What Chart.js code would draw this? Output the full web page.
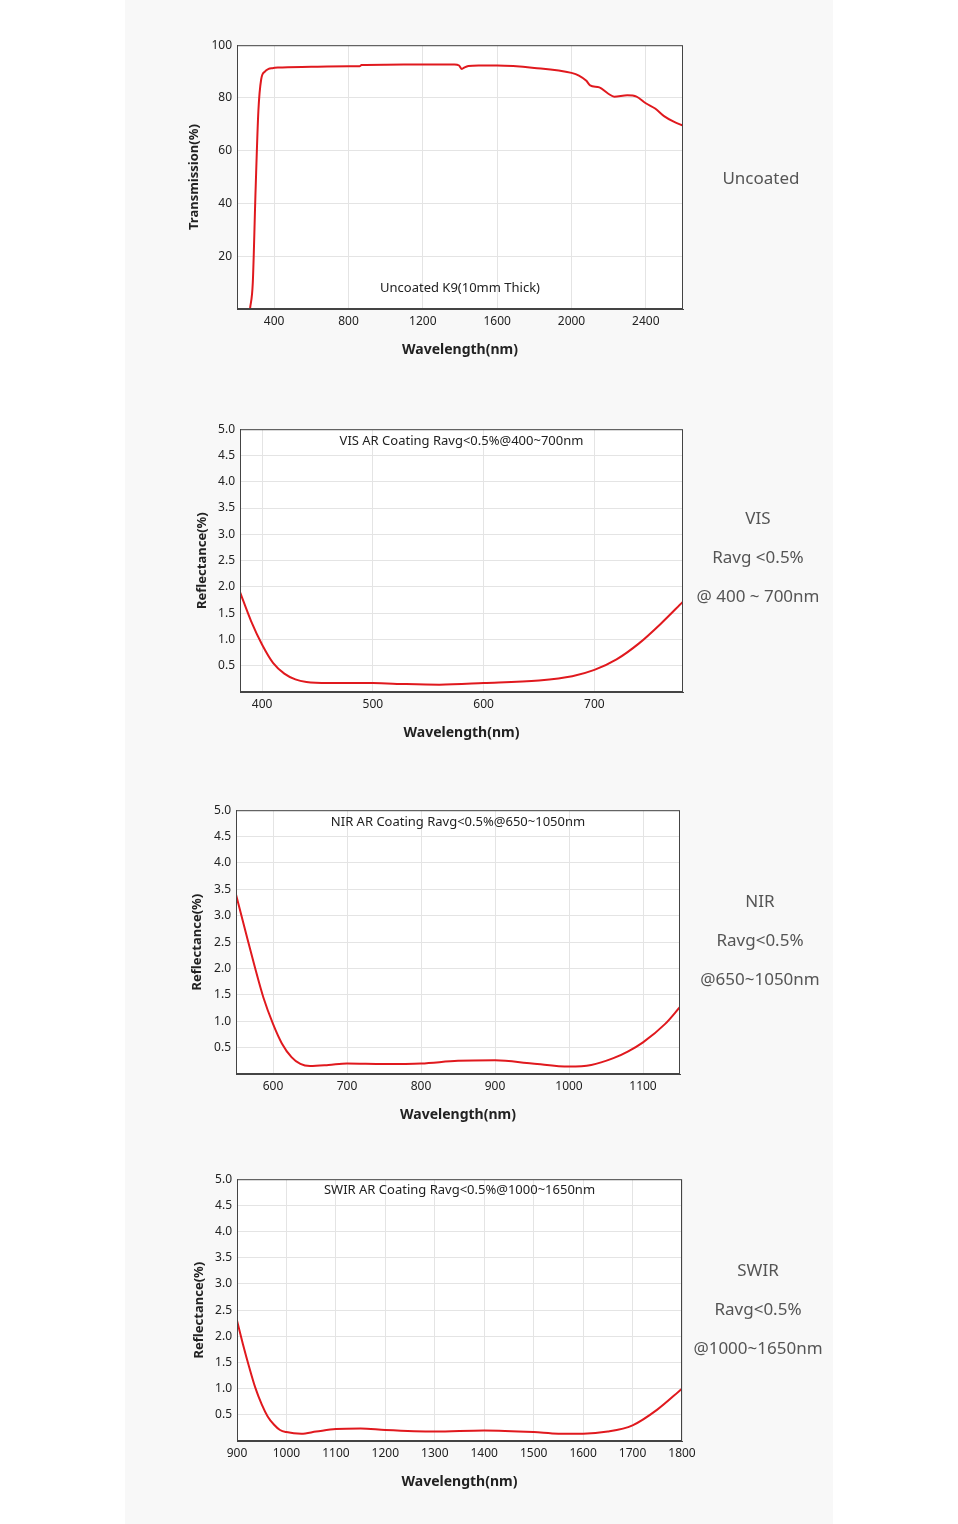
<!DOCTYPE html>
<html><head><meta charset="utf-8">
<script src="https://cdn.jsdelivr.net/npm/chart.js@4"></script>
<style>
body{margin:0;background:#fff;width:958px;height:1524px;position:relative;font-family:"Noto Sans","Open Sans",sans-serif;overflow:hidden}
#panel{position:absolute;left:125px;top:0;width:708px;height:1524px;background:#f8f8f8}
canvas{position:absolute}
.lab{position:absolute;color:#555;font-size:17px;text-align:center;width:160px;line-height:39px}
</style></head><body>
<div id="panel"></div>
<canvas id="c1"></canvas><canvas id="c2"></canvas><canvas id="c3"></canvas><canvas id="c4"></canvas>
<div class="lab" style="left:681px;top:158px">Uncoated</div>
<div class="lab" style="left:678px;top:498px">VIS<br>Ravg &lt;0.5%<br>@ 400 ~ 700nm</div>
<div class="lab" style="left:680px;top:881px">NIR<br>Ravg&lt;0.5%<br>@650~1050nm</div>
<div class="lab" style="left:678px;top:1250px">SWIR<br>Ravg&lt;0.5%<br>@1000~1650nm</div>
<script>
// Chart 1: uncoated transmission
const wl1 = [270,285,300,315,330,350,370,390,420,600,800,860,870,1000,1200,1370,1395,1410,1425,1445,1500,1600,1800,2000,2040,2080,2100,2150,2200,2230,2300,2350,2400,2450,2500,2550,2600];
const tr1 = [0,10,45,75,87,90,91,91.3,91.5,91.8,92,92,92.5,92.6,92.7,92.7,92.3,91,91.6,92.1,92.3,92.3,91.4,89.5,88.5,86.5,84.8,84,81.5,80.5,81,80.5,78,76,73,71,69.5];
const xt1 = [400,800,1200,1600,2000,2400];
// Chart 2: VIS AR
const wl2 = [380,390,400,410,420,430,440,460,480,500,530,560,600,650,680,700,720,740,760,780];
const r2 = [1.9,1.35,0.9,0.55,0.35,0.24,0.19,0.17,0.17,0.17,0.15,0.14,0.17,0.22,0.3,0.42,0.62,0.92,1.3,1.72];
const xt2 = [400,500,600,700];
// Chart 3: NIR AR
const wl3 = [550,562,575,587,600,612,625,637,650,675,700,750,800,850,900,950,1000,1030,1060,1080,1100,1130,1150];
const r3 = [3.4,2.75,2.05,1.45,0.95,0.58,0.32,0.19,0.15,0.17,0.2,0.19,0.2,0.25,0.26,0.2,0.14,0.17,0.3,0.43,0.6,0.95,1.27];
const xt3 = [600,700,800,900,1000,1100];
// Chart 4: SWIR AR
const wl4 = [900,912,925,937,950,962,975,987,1000,1030,1060,1100,1150,1200,1300,1400,1500,1550,1600,1650,1700,1750,1800];
const r4 = [2.3,1.85,1.4,1.02,0.7,0.47,0.31,0.21,0.17,0.14,0.18,0.23,0.24,0.21,0.18,0.2,0.17,0.14,0.14,0.18,0.3,0.6,1.0];
const xt4 = [900,1000,1100,1200,1300,1400,1500,1600,1700,1800];

function mk(id, area, xs, ys, xmin, xmax, ymax, ystep, xticks, ytitle, note, noteY, dec, yw){
  const c = document.getElementById(id);
  const L = area[0]-62, T = area[1]-12;
  const W = area[2]-area[0]+62+20, H = area[3]-area[1]+12+60;
  c.style.left=L+'px'; c.style.top=T+'px'; c.style.width=W+'px'; c.style.height=H+'px';
  c.width=W; c.height=H;
  new Chart(c,{type:'line',
    data:{datasets:[{data:xs.map((x,i)=>({x:x,y:ys[i]})),borderColor:'#e0191e',borderWidth:2,pointRadius:0,tension:0.4,cubicInterpolationMode:'monotone'}]},
    options:{responsive:false,animation:false,layout:{padding:{left:62-yw,top:12,right:20,bottom:11}},
      plugins:{legend:{display:false},tooltip:{enabled:false}},
      scales:{
        x:{type:'linear',min:xmin,max:xmax,afterBuildTicks:s=>{s.ticks=xticks.map(v=>({value:v}));},
          afterFit:s=>{s.height=49;},
          grid:{color:'#e4e4e4',drawTicks:false},border:{color:'#444'},
          ticks:{color:'#222',font:{size:12,family:'Noto Sans'},padding:5,callback:v=>String(v)},
          title:{display:true,text:'Wavelength(nm)',color:'#222',font:{size:14,weight:'bold',family:'Noto Sans'},padding:{top:2,bottom:0}}},
        y:{min:0,max:ymax,afterFit:s=>{s.width=yw;},
          grid:{color:'#e4e4e4',drawTicks:false},border:{color:'#444'},
          ticks:{stepSize:ystep,color:'#222',font:{size:12,family:'Noto Sans'},padding:5,
            callback:v=>v===0?'':(dec?v.toFixed(1):String(v))},
          title:{display:true,text:ytitle,color:'#222',font:{size:13,weight:'bold',family:'Noto Sans'},padding:{bottom:2}}}
      }},
    plugins:[{id:'bg',beforeDraw(ch){const a=ch.chartArea,x=ch.ctx;x.save();x.fillStyle='#fff';x.fillRect(a.left,a.top,a.right-a.left,a.bottom-a.top);x.restore();},
      afterDraw(ch){const a=ch.chartArea,x=ch.ctx;x.save();x.strokeStyle='#444';x.lineWidth=1;x.strokeRect(a.left+0.5,a.top+0.5,a.right-a.left-1,a.bottom-a.top-1);
        x.fillStyle='#222';x.font='13px "Noto Sans"';x.textAlign='center';x.textBaseline='middle';
        x.fillText(note,(a.left+a.right)/2,a.top+noteY);x.restore();}}]
  });
}
mk('c1',[237,45,683,309],wl1,tr1,200,2600,100,20,xt1,'Transmission(%)','Uncoated K9(10mm Thick)',243,false,55);
mk('c2',[240,429,683,692],wl2,r2,380,780,5,0.5,xt2,'Reflectance(%)','VIS AR Coating Ravg<0.5%@400~700nm',12,true,50);
mk('c3',[236,810,680,1074],wl3,r3,550,1150,5,0.5,xt3,'Reflectance(%)','NIR AR Coating Ravg<0.5%@650~1050nm',12,true,51);
mk('c4',[237,1179,682,1441],wl4,r4,900,1800,5,0.5,xt4,'Reflectance(%)','SWIR AR Coating Ravg<0.5%@1000~1650nm',11,true,50);
</script>
</body></html>
